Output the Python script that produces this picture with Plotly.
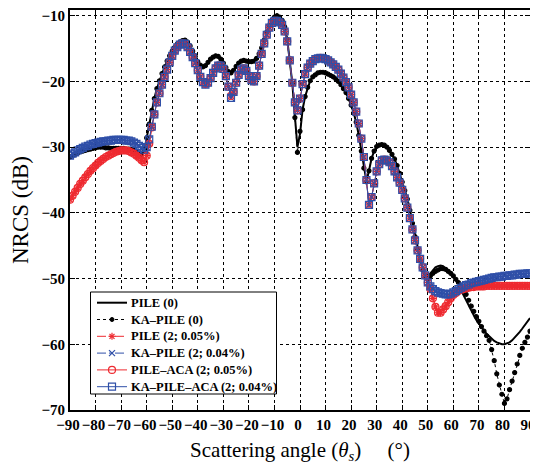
import plotly.graph_objects as go

# scattering angles, 1 degree steps
angles = list(range(-90, 91))

# PILE (0) - black solid
pile_0 = [
    -31.5, -31.3, -31.1, -30.9, -30.7, -30.6, -30.5, -30.4, -30.3, -30.2,
    -30.1, -30.0, -30.0, -30.0, -30.1, -30.1, -30.2, -30.2, -30.2, -30.2,
    -30.2, -30.2, -30.3, -30.3, -30.4, -30.5, -30.7, -30.9, -31.1, -30.6,
    -28.6, -26.5, -24.4, -22.6, -21.1, -19.9, -18.8, -17.8, -16.9, -16.1,
    -15.4, -14.8, -14.3, -14.0, -13.8, -13.7, -14.0, -14.6, -15.4, -16.2,
    -17.0, -17.5, -17.8, -17.6, -17.1, -16.6, -16.3, -16.1, -16.2, -16.6,
    -17.2, -17.9, -18.5, -18.7, -18.3, -17.7, -17.2, -16.9, -16.8, -16.9,
    -17.0, -17.0, -16.9, -16.5, -15.8, -14.9, -13.7, -12.5, -11.5, -10.7,
    -10.2, -10.0, -10.2, -10.7, -11.7, -13.6, -16.8, -20.3, -25.3, -30.0,
    -28.0, -24.3, -22.3, -20.9, -19.9, -19.3, -19.0, -18.7, -18.6, -18.6,
    -18.7, -18.9, -19.1, -19.3, -19.6, -20.0, -20.5, -21.1, -21.7, -22.6,
    -23.6, -24.8, -26.2, -28.2, -30.6, -33.2, -35.2, -33.6, -31.7, -30.6,
    -29.9, -29.7, -29.6, -29.7, -30.0, -30.5, -31.1, -31.8, -32.8, -34.0,
    -35.2, -36.5, -37.8, -39.5, -41.5, -43.5, -45.3, -47.0, -48.5, -49.5,
    -49.7, -49.2, -48.7, -48.3, -48.1, -48.0, -48.1, -48.4, -48.8, -49.2,
    -49.7, -50.3, -51.0, -51.8, -52.6, -53.3, -54.1, -54.9, -55.6, -56.3,
    -56.9, -57.4, -57.9, -58.4, -58.8, -59.2, -59.5, -59.7, -59.9, -60.0,
    -60.0, -59.9, -59.7, -59.4, -59.0, -58.6, -58.1, -57.6, -57.1, -56.5,
    -56.0,
]

# KA-PILE (0) - black dotted
ka_pile_0 = [
    -31.5, -31.3, -31.1, -30.9, -30.7, -30.6, -30.5, -30.4, -30.3, -30.2,
    -30.1, -30.0, -30.0, -30.0, -30.1, -30.1, -30.2, -30.2, -30.2, -30.2,
    -30.2, -30.2, -30.3, -30.3, -30.4, -30.5, -30.7, -30.9, -31.1, -30.6,
    -28.6, -26.5, -24.4, -22.6, -21.1, -19.9, -18.8, -17.8, -16.9, -16.1,
    -15.4, -14.8, -14.3, -14.0, -13.8, -13.7, -14.0, -14.6, -15.4, -16.2,
    -17.0, -17.5, -17.8, -17.6, -17.1, -16.6, -16.3, -16.1, -16.2, -16.6,
    -17.2, -17.9, -18.5, -18.7, -18.3, -17.7, -17.2, -16.9, -16.8, -16.9,
    -17.0, -17.0, -16.9, -16.5, -15.8, -14.9, -13.7, -12.5, -11.5, -10.7,
    -10.2, -10.0, -10.2, -10.7, -11.7, -13.6, -16.8, -20.3, -25.5, -30.8,
    -27.6, -24.3, -22.3, -20.9, -19.9, -19.3, -19.0, -18.7, -18.6, -18.6,
    -18.7, -18.9, -19.1, -19.3, -19.6, -20.0, -20.5, -21.1, -21.7, -22.6,
    -23.6, -24.8, -26.2, -28.2, -30.6, -33.2, -35.3, -33.6, -31.7, -30.6,
    -29.9, -29.7, -29.6, -29.7, -30.0, -30.5, -31.1, -31.8, -32.8, -34.0,
    -35.3, -36.6, -37.9, -39.6, -41.6, -43.6, -45.5, -47.2, -48.7, -49.6,
    -50.0, -49.6, -49.2, -48.9, -48.7, -48.5, -48.5, -48.6, -48.9, -49.2,
    -49.6, -50.1, -50.6, -51.1, -51.6, -52.4, -53.3, -54.2, -55.0, -55.8,
    -56.5, -57.3, -58.0, -58.7, -59.4, -60.8, -62.5, -64.5, -66.2, -67.6,
    -69.0, -68.3, -66.9, -65.6, -64.3, -63.0, -61.7, -60.6, -59.7, -58.9,
    -58.0,
]

# PILE (2; 0.05%) and PILE-ACA (2; 0.05%) - red
pile_rough = [
    -38.0, -37.4, -36.8, -36.2, -35.6, -35.1, -34.6, -34.1, -33.6, -33.2,
    -32.8, -32.4, -32.1, -31.8, -31.5, -31.3, -31.1, -30.9, -30.7, -30.6,
    -30.5, -30.5, -30.5, -30.6, -30.8, -31.0, -31.3, -31.6, -32.0, -32.3,
    -31.3, -29.5, -27.0, -25.0, -23.2, -21.8, -20.5, -19.3, -18.2, -17.1,
    -16.1, -15.3, -14.8, -14.4, -14.2, -14.3, -14.8, -15.5, -16.3, -17.2,
    -18.3, -19.3, -20.1, -20.4, -20.2, -19.5, -18.7, -18.0, -17.6, -17.6,
    -18.1, -19.2, -20.8, -22.2, -21.6, -20.2, -19.0, -18.2, -18.0, -18.4,
    -19.2, -19.8, -20.0, -19.2, -17.6, -15.8, -14.2, -12.9, -11.8, -11.1,
    -10.8, -10.8, -11.0, -11.4, -12.4, -13.9, -16.8, -20.2, -23.2, -24.4,
    -22.6, -20.4, -18.9, -17.9, -17.3, -16.9, -16.6, -16.5, -16.4, -16.5,
    -16.6, -16.8, -17.1, -17.4, -17.8, -18.2, -18.8, -19.4, -20.1, -20.9,
    -22.0, -23.2, -24.6, -26.4, -28.7, -31.5, -35.0, -38.8, -37.6, -35.5,
    -33.7, -32.6, -32.0, -31.9, -32.0, -32.3, -32.9, -33.7, -34.6, -35.4,
    -36.5, -37.8, -39.2, -40.8, -42.5, -44.2, -45.7, -47.0, -48.3, -49.5,
    -50.6, -51.6, -53.0, -54.3, -55.2, -55.2, -54.7, -54.2, -53.6, -53.0,
    -52.5, -52.2, -51.9, -51.7, -51.6, -51.5, -51.4, -51.3, -51.3, -51.2,
    -51.2, -51.2, -51.2, -51.1, -51.1, -51.1, -51.1, -51.1, -51.1, -51.1,
    -51.1, -51.1, -51.1, -51.1, -51.1, -51.1, -51.1, -51.1, -51.1, -51.1,
    -51.1,
]

# KA-PILE (2; 0.04%) and KA-PILE-ACA (2; 0.04%) - blue
ka_pile_rough = [
    -31.3, -31.0, -30.8, -30.5, -30.3, -30.1, -29.9, -29.8, -29.6, -29.5,
    -29.4, -29.3, -29.2, -29.1, -29.1, -29.0, -29.0, -28.9, -28.9, -28.9,
    -28.9, -28.9, -29.0, -29.0, -29.1, -29.3, -29.5, -29.8, -30.1, -30.4,
    -30.0, -28.8, -26.9, -25.0, -23.2, -21.8, -20.5, -19.3, -18.2, -17.1,
    -16.1, -15.3, -14.8, -14.4, -14.2, -14.3, -14.8, -15.5, -16.3, -17.2,
    -18.3, -19.3, -20.1, -20.5, -20.2, -19.5, -18.7, -18.0, -17.6, -17.6,
    -18.1, -19.2, -20.8, -22.5, -21.6, -20.2, -19.0, -18.2, -18.0, -18.4,
    -19.2, -19.8, -20.0, -19.2, -17.6, -15.8, -14.2, -12.9, -11.8, -11.1,
    -10.8, -10.8, -11.0, -11.4, -12.4, -13.9, -16.8, -20.2, -23.2, -24.4,
    -22.6, -20.4, -18.9, -17.9, -17.3, -16.9, -16.6, -16.5, -16.4, -16.5,
    -16.6, -16.8, -17.1, -17.4, -17.8, -18.2, -18.8, -19.4, -20.1, -20.9,
    -22.0, -23.2, -24.6, -26.4, -28.7, -31.5, -35.0, -38.8, -37.6, -35.5,
    -33.7, -32.6, -32.0, -31.9, -32.0, -32.3, -32.9, -33.7, -34.6, -35.4,
    -36.5, -37.8, -39.2, -40.8, -42.5, -44.2, -45.7, -47.0, -48.3, -49.5,
    -50.6, -51.2, -51.6, -51.9, -52.1, -52.2, -52.3, -52.4, -52.4, -52.3,
    -52.1, -51.9, -51.6, -51.4, -51.2, -51.0, -50.9, -50.7, -50.6, -50.5,
    -50.4, -50.3, -50.2, -50.1, -50.0, -49.9, -49.8, -49.8, -49.7, -49.7,
    -49.6, -49.6, -49.5, -49.5, -49.4, -49.4, -49.3, -49.3, -49.3, -49.2,
    -49.2,
]

x_ticks = list(range(-90, 91, 10))
y_ticks = list(range(-70, -9, 10))

RED = '#ee2a30'
BLUE = '#2f4fa8'
SERIF = 'Liberation Serif'

# (name, data, line colour, line width, dash, marker symbol, marker size)
series = [
    ('PILE (0)', pile_0, 'black', 2, 'solid', None, 0),
    ('KA\u2013PILE (0)', ka_pile_0, 'black', 1, 'dot', 'circle', 4),
    ('PILE (2; 0.05%)', pile_rough, RED, 1, 'dashdot', 'asterisk-open', 6),
    ('KA\u2013PILE (2; 0.04%)', ka_pile_rough, BLUE, 1, 'dashdot', 'x-thin-open', 6),
    ('PILE\u2013ACA (2; 0.05%)', pile_rough, RED, 1, 'solid', 'circle-open', 7),
    ('KA\u2013PILE\u2013ACA (2; 0.04%)', ka_pile_rough, BLUE, 1, 'solid', 'square-open', 7),
]

fig = go.Figure()
for name, vals, color, width, dash, symbol, msize in series:
    if symbol is None:
        fig.add_trace(go.Scatter(x=angles, y=vals, name=name, mode='lines',
                                 line=dict(color=color, width=width, dash=dash)))
    else:
        fig.add_trace(go.Scatter(x=angles, y=vals, name=name, mode='lines+markers',
                                 line=dict(color=color, width=width, dash=dash),
                                 marker=dict(symbol=symbol, size=msize, color=color,
                                             line=dict(color=color, width=1.2))))

# plot area in page pixels (page body keeps its 8px default margin)
PL, PR, PT, PB = 70, 530, 10, 410


def xp(px):
    return (px - PL) / (PR - PL)


def yp(py):
    return (PB - py) / (PB - PT)


# hand-drawn legend, MATLAB style
shapes = [dict(type='rect', xref='paper', yref='paper', layer='above',
               x0=xp(90.5), x1=xp(276.5), y0=yp(394), y1=yp(292),
               fillcolor='white', line=dict(color='black', width=1))]
annotations = []
for i, (name, vals, color, width, dash, symbol, msize) in enumerate(series):
    yc = yp(302.7 + 16.8 * i)
    shapes.append(dict(type='line', xref='paper', yref='paper', layer='above',
                       x0=xp(97), x1=xp(127), y0=yc, y1=yc,
                       line=dict(color=color, width=width, dash=dash)))
    mark = dict(xref='paper', yref='paper', layer='above', xsizemode='pixel',
                ysizemode='pixel', xanchor=xp(112), yanchor=yc)
    if symbol == 'circle':
        shapes.append(dict(mark, type='circle', x0=-2, x1=2, y0=-2, y1=2,
                           fillcolor='black', line=dict(color='black', width=1)))
    elif symbol == 'circle-open':
        shapes.append(dict(mark, type='circle', x0=-3.5, x1=3.5, y0=-3.5, y1=3.5,
                           line=dict(color=color, width=1.2)))
    elif symbol == 'square-open':
        shapes.append(dict(mark, type='rect', x0=-3.5, x1=3.5, y0=-3.5, y1=3.5,
                           line=dict(color=color, width=1.2)))
    elif symbol == 'x-thin-open':
        for a, b in ((-3, 3), (3, -3)):
            shapes.append(dict(mark, type='line', x0=-3, x1=3, y0=a, y1=b,
                               line=dict(color=color, width=1.2)))
    elif symbol == 'asterisk-open':
        for x0, y0 in ((-3.5, 0), (0, -3.5), (-2.5, -2.5), (-2.5, 2.5)):
            shapes.append(dict(mark, type='line', x0=x0, x1=-x0, y0=y0, y1=-y0,
                               line=dict(color=color, width=1.2)))
    annotations.append(dict(text=name, xref='paper', yref='paper', x=xp(129), y=yc,
                            xanchor='left', yanchor='middle', showarrow=False,
                            font=dict(family=SERIF, size=12.5, color='black',
                                      weight='bold')))

axis_style = dict(showline=True, linewidth=2, linecolor='black', mirror='ticks',
                  ticks='inside', ticklen=5, tickwidth=1, tickcolor='black',
                  showgrid=True, gridcolor='black', gridwidth=1, griddash='dot',
                  zeroline=False, automargin=False, tickangle=0,
                  tickfont=dict(family=SERIF, size=15, color='black', weight='bold'))

fig.update_layout(
    width=530, height=456,
    margin=dict(l=62, r=8, t=2, b=54),
    paper_bgcolor='white', plot_bgcolor='white',
    showlegend=False,
    shapes=shapes,
    annotations=annotations,
    xaxis=dict(range=[-90, 90], tickvals=x_ticks, ticklabelshift=-2,
               title=dict(text='Scattering angle (<i>\u03b8</i><sub><i>s</i></sub>)\u2003 (\u00b0)',
                          font=dict(family=SERIF, size=21, color='black'),
                          standoff=10),
               **axis_style),
    yaxis=dict(range=[-70, -9.13], tickvals=y_ticks,
               title=dict(text='NRCS (dB)',
                          font=dict(family=SERIF, size=23, color='black'),
                          standoff=13),
               **axis_style),
)

fig.write_html("out.html")
